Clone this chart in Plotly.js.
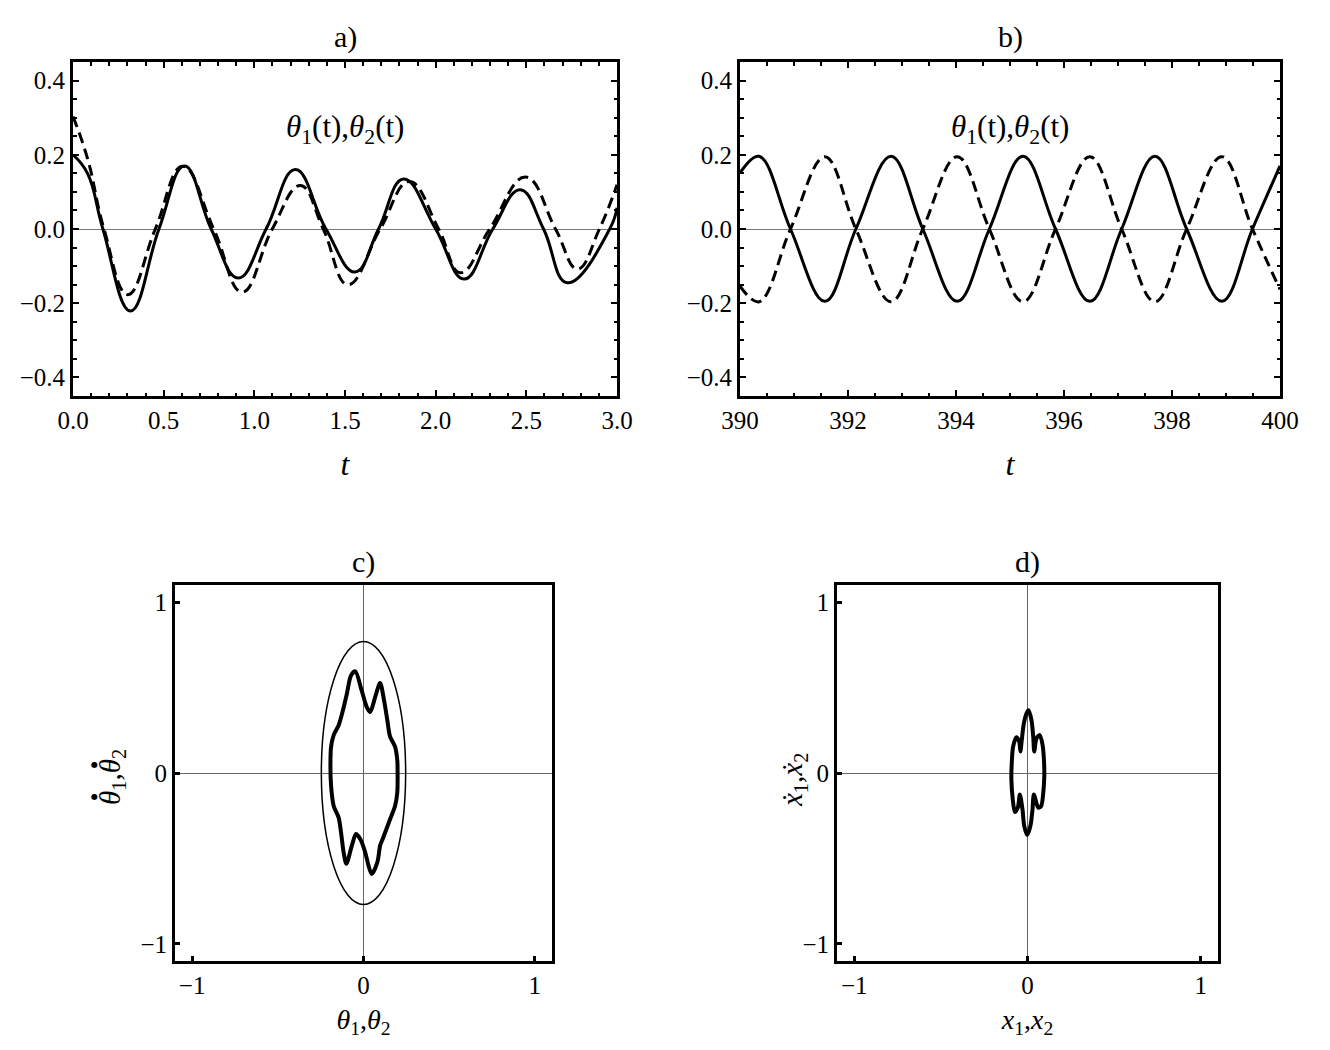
<!DOCTYPE html>
<html>
<head>
<meta charset="utf-8">
<script src="https://cdn.plot.ly/plotly-3.0.1.min.js"></script>
<style>html,body{margin:0;padding:0;background:#fff;}#plot{width:1330px;height:1050px;}</style>
</head>
<body>
<div id="plot"></div>
<script>
// ---- Panel a: t in [0,3] (extrema and zero crossings)
const aSolidT = [0, 0.08, 0.165, 0.317, 0.474, 0.615, 0.762, 0.911, 1.065, 1.226, 1.395, 1.556, 1.685, 1.823, 2.0, 2.157, 2.315, 2.466, 2.595, 2.726, 2.96, 3.0];
const aSolidY = [0.20, 0.15, 0, -0.221, 0, 0.170, 0, -0.132, 0, 0.160, 0, -0.116, 0, 0.135, 0, -0.135, 0, 0.106, 0, -0.145, 0, 0.057];
const aDashT = [0, 0.08, 0.171, 0.302, 0.454, 0.605, 0.776, 0.933, 1.099, 1.254, 1.38, 1.516, 1.694, 1.855, 2.016, 2.137, 2.298, 2.496, 2.661, 2.782, 2.903, 3.0];
const aDashY = [0.303, 0.19, 0, -0.177, 0, 0.169, 0, -0.170, 0, 0.117, 0, -0.150, 0, 0.128, 0, -0.118, 0, 0.140, 0, -0.108, 0, 0.119];

// ---- Panel b: t in [390,400]
const bT = [390.0, 390.354, 390.935, 391.572, 392.146, 392.797, 393.385, 394.023, 394.618, 395.241, 395.843, 396.480, 397.068, 397.684, 398.272, 398.924, 399.49, 400.0];
const bSolidY = [0.151, 0.196, 0, -0.195, 0, 0.196, 0, -0.195, 0, 0.196, 0, -0.195, 0, 0.196, 0, -0.195, 0, 0.170];
const bDashY = [-0.154, -0.196, 0, 0.195, 0, -0.196, 0, 0.195, 0, -0.196, 0, 0.195, 0, -0.196, 0, 0.195, 0, -0.163];

// ---- Panel c: phase curve theta vs theta-dot, and bounding ellipse semi-axes
const cX = [-0.048, -0.010, 0.019, 0.039, 0.068, 0.097, 0.120, 0.139, 0.155, 0.184, 0.197, 0.199, 0.197, 0.184, 0.155, 0.112, 0.097, 0.081, 0.048, 0.029, 0.010, -0.019, -0.044, -0.068, -0.100, -0.116, -0.131, -0.145, -0.174, -0.189, -0.193, -0.189, -0.174, -0.145, -0.120, -0.097, -0.073, -0.048];
const cY = [0.595, 0.480, 0.386, 0.357, 0.444, 0.526, 0.425, 0.309, 0.213, 0.155, 0.077, 0.0, -0.116, -0.193, -0.271, -0.386, -0.425, -0.522, -0.591, -0.541, -0.464, -0.386, -0.357, -0.425, -0.531, -0.464, -0.348, -0.261, -0.193, -0.077, 0.039, 0.155, 0.222, 0.280, 0.367, 0.464, 0.570, 0.595];
const ellipseSemiAxes = [0.246, 0.769];

// ---- Panel d: phase curve x vs x-dot
const dX = [0.006, 0.023, 0.033, 0.039, 0.052, 0.071, 0.087, 0.095, 0.097, 0.091, 0.079, 0.062, 0.037, 0.029, 0.017, -0.002, -0.019, -0.029, -0.044, -0.056, -0.073, -0.085, -0.093, -0.091, -0.083, -0.064, -0.048, -0.041, -0.033, -0.021, -0.006, 0.006];
const dY = [0.367, 0.309, 0.213, 0.126, 0.203, 0.222, 0.164, 0.077, -0.019, -0.116, -0.193, -0.203, -0.126, -0.213, -0.309, -0.363, -0.309, -0.213, -0.126, -0.203, -0.228, -0.155, -0.039, 0.058, 0.155, 0.209, 0.184, 0.126, 0.193, 0.290, 0.348, 0.367];

const FONT = 'Liberation Serif';
const tickfont = {family: FONT, size: 25, color: 'black'};

const traces = [
  {x: aSolidT, y: aSolidY, xaxis: 'x', yaxis: 'y', mode: 'lines', line: {color: 'black', width: 3, shape: 'spline', smoothing: 1.25}, name: 'θ1'},
  {x: aDashT, y: aDashY, xaxis: 'x', yaxis: 'y', mode: 'lines', line: {color: 'black', width: 3, dash: '11px,6px', shape: 'spline', smoothing: 1.25}, name: 'θ2'},
  {x: bT, y: bSolidY, xaxis: 'x2', yaxis: 'y2', mode: 'lines', line: {color: 'black', width: 3, shape: 'spline', smoothing: 1.1}, name: 'θ1'},
  {x: bT, y: bDashY, xaxis: 'x2', yaxis: 'y2', mode: 'lines', line: {color: 'black', width: 3, dash: '11px,6px', shape: 'spline', smoothing: 1.1}, name: 'θ2'},
  {x: cX, y: cY, xaxis: 'x3', yaxis: 'y3', mode: 'lines', line: {color: 'black', width: 4, shape: 'spline', smoothing: 0.8}, name: 'c'},
  {x: dX, y: dY, xaxis: 'x4', yaxis: 'y4', mode: 'lines', line: {color: 'black', width: 4, shape: 'spline', smoothing: 0.8}, name: 'd'}
];

function timeAxis(domain, range, dtick, minorDtick, fmt, zl) {
  return {
    domain: domain, range: range, dtick: dtick, tick0: 0, tickformat: fmt,
    showline: true, linewidth: 3, linecolor: 'black', mirror: 'allticks',
    ticks: 'inside', ticklen: 6, tickwidth: 2, tickcolor: 'black',
    minor: {ticks: 'inside', ticklen: 3.5, tickwidth: 2, dtick: minorDtick, tickcolor: 'black', showgrid: false},
    showgrid: false, zeroline: zl, zerolinecolor: '#777', zerolinewidth: 1,
    tickfont: tickfont, fixedrange: true
  };
}
function phaseAxis(domain) {
  return {
    domain: domain, range: [-1.1, 1.1], dtick: 1, tick0: 0,
    showline: true, linewidth: 3, linecolor: 'black', mirror: true,
    ticks: 'inside', ticklen: 5, tickwidth: 3, tickcolor: 'black',
    showgrid: false, zeroline: true, zerolinecolor: '#666', zerolinewidth: 1,
    tickfont: tickfont, fixedrange: true
  };
}

const W = 1330, H = 1050;
const px = (a, b) => [a / W, b / W];
const py = (top, bottom) => [1 - bottom / H, 1 - top / H];
const PX = v => v / W, PY = v => 1 - v / H;

const xa = timeAxis(px(73, 617), [0, 3], 0.5, 0.1, '.1f', false);
xa.title = {text: '<i>t</i>', font: {family: FONT, size: 32, color: 'black'}, standoff: 20};
const ya = timeAxis(py(62, 396), [-0.45, 0.45], 0.2, 0.05, '.1f', true);
const xb = timeAxis(px(740, 1280), [390, 400], 2, 0.5, 'd', false);
xb.title = {text: '<i>t</i>', font: {family: FONT, size: 32, color: 'black'}, standoff: 20};
const yb = timeAxis(py(62, 396), [-0.45, 0.45], 0.2, 0.05, '.1f', true);

const xc = phaseAxis(px(175, 552));
xc.title = {text: '<i>θ</i><sub>1</sub>,<i>θ</i><sub>2</sub>', font: {family: FONT, size: 28, color: 'black'}, standoff: 12};
const yc = phaseAxis(py(585, 961));
const xd = phaseAxis(px(837, 1218));
xd.title = {text: '<i>x</i><sub>1</sub>,<i>x</i><sub>2</sub>', font: {family: FONT, size: 28, color: 'black'}, standoff: 12};
const yd = phaseAxis(py(585, 961));

const titleFont = {family: FONT, size: 30, color: 'black'};
const innerFont = {family: FONT, size: 31, color: 'black'};
const labelFont = {family: FONT, size: 29, color: 'black'};
const dotFont = {family: 'DejaVu Sans', size: 8, color: 'black'};
const annotations = [
  {text: 'a)', xref: 'paper', yref: 'paper', x: PX(345), y: PY(37), xanchor: 'center', yanchor: 'middle', showarrow: false, font: titleFont},
  {text: 'b)', xref: 'paper', yref: 'paper', x: PX(1010), y: PY(37), xanchor: 'center', yanchor: 'middle', showarrow: false, font: titleFont},
  {text: 'c)', xref: 'paper', yref: 'paper', x: PX(363), y: PY(562), xanchor: 'center', yanchor: 'middle', showarrow: false, font: titleFont},
  {text: 'd)', xref: 'paper', yref: 'paper', x: PX(1027), y: PY(562), xanchor: 'center', yanchor: 'middle', showarrow: false, font: titleFont},
  {text: '<i>θ</i><sub>1</sub>(t),<i>θ</i><sub>2</sub>(t)', xref: 'x', yref: 'y', x: 1.5, y: 0.27, xanchor: 'center', yanchor: 'middle', showarrow: false, font: innerFont},
  {text: '<i>θ</i><sub>1</sub>(t),<i>θ</i><sub>2</sub>(t)', xref: 'x2', yref: 'y2', x: 395, y: 0.27, xanchor: 'center', yanchor: 'middle', showarrow: false, font: innerFont},
  // y label of panel c (theta-dot): rotated text with dots set above each theta
  {text: '<i>θ</i><sub>1</sub>,<i>θ</i><sub>2</sub>', xref: 'paper', yref: 'paper', x: PX(112), y: PY(777), xanchor: 'center', yanchor: 'middle', textangle: -90, showarrow: false, font: labelFont},
  {text: '●', xref: 'paper', yref: 'paper', x: PX(94), y: PY(796), xanchor: 'center', yanchor: 'middle', showarrow: false, font: dotFont},
  {text: '●', xref: 'paper', yref: 'paper', x: PX(94), y: PY(764), xanchor: 'center', yanchor: 'middle', showarrow: false, font: dotFont},
  // y label of panel d (x-dot)
  {text: '<i>ẋ</i><sub>1</sub>,<i>ẋ</i><sub>2</sub>', xref: 'paper', yref: 'paper', x: PX(794), y: PY(780), xanchor: 'center', yanchor: 'middle', textangle: -90, showarrow: false, font: labelFont}
];

const shapes = [
  {type: 'circle', xref: 'x3', yref: 'y3', x0: -ellipseSemiAxes[0], x1: ellipseSemiAxes[0], y0: -ellipseSemiAxes[1], y1: ellipseSemiAxes[1], line: {color: 'black', width: 1.5}, layer: 'above'}
];

const layout = {
  width: W, height: H, margin: {l: 0, r: 0, t: 0, b: 0},
  paper_bgcolor: 'white', plot_bgcolor: 'white', showlegend: false,
  xaxis: xa, yaxis: ya, xaxis2: xb, yaxis2: yb, xaxis3: xc, yaxis3: yc, xaxis4: xd, yaxis4: yd,
  annotations: annotations, shapes: shapes,
  font: {family: FONT, color: 'black'}
};
xa.anchor = 'y'; ya.anchor = 'x';
xb.anchor = 'y2'; yb.anchor = 'x2';
xc.anchor = 'y3'; yc.anchor = 'x3';
xd.anchor = 'y4'; yd.anchor = 'x4';

Plotly.newPlot('plot', traces, layout, {displayModeBar: false});
</script>
</body>
</html>
